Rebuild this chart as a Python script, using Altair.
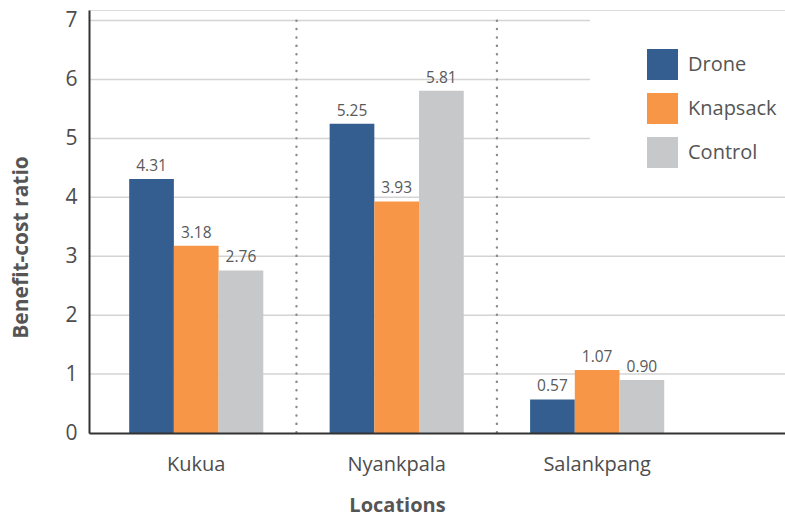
import altair as alt
import pandas as pd

# Benefit-cost ratios by location and application method
locations = ["Kukua", "Nyankpala", "Salankpang"]
treatments = ["Drone", "Knapsack", "Control"]
drone = [4.31, 5.25, 0.57]
knapsack = [3.18, 3.93, 1.07]
control = [2.76, 5.81, 0.90]
colors = ["#345e8f", "#f79646", "#c7c8ca"]

y_ticks = [0, 1, 2, 3, 4, 5, 6, 7]
grid_full = [1, 2, 3, 4]
grid_short = [5, 6, 7]
separators = ["Nyankpala", "Salankpang"]

FONT = "Open Sans"
TEXT = "#555555"

rows = []
for t, vals in zip(treatments, [drone, knapsack, control]):
    for loc, v in zip(locations, vals):
        rows.append({"Location": loc, "Treatment": t, "Ratio": v, "Label": f"{v:.2f}"})
df = pd.DataFrame(rows)

x_scale = alt.Scale(domain=locations, paddingInner=0, paddingOuter=0.236, align=0.074)
off_scale = alt.Scale(domain=treatments, paddingInner=0, paddingOuter=0.742)
y_scale = alt.Scale(domain=[0, 7.18], nice=False, zero=True)

x_axis = alt.Axis(
    title="Locations",
    labelAngle=0,
    ticks=False,
    grid=False,
    domainColor="#333333",
    domainWidth=2,
    labelFontSize=20,
    labelColor="#4d4d4d",
    labelPadding=21,
    labelFont=FONT,
    titleFont=FONT,
    titleFontSize=20,
    titleFontWeight="bold",
    titleColor=TEXT,
    titleX=308,
    titleY=62,
    titleBaseline="top",
    zindex=1,
)

y_axis = alt.Axis(
    title="Benefit-cost ratio",
    values=y_ticks,
    format="d",
    ticks=False,
    grid=False,
    domainColor="#333333",
    domainWidth=2,
    labelFontSize=21,
    labelColor="#4d4d4d",
    labelPadding=12,
    labelFont=FONT,
    titleFont=FONT,
    titleFontSize=21,
    titleFontWeight="bold",
    titleColor=TEXT,
    titleX=-68,
    titleY=237,
    titleAlign="center",
    titleBaseline="middle",
    titleAngle=270,
    zindex=1,
)

# horizontal grid lines (upper ones stop short of the legend)
grid_a = alt.Chart(pd.DataFrame({"v": grid_full})).mark_rule(
    color="#d4d4d4", strokeWidth=1.5
).encode(y=alt.Y("v:Q", scale=y_scale, axis=y_axis))

grid_b = alt.Chart(pd.DataFrame({"v": grid_short})).mark_rule(
    color="#d4d4d4", strokeWidth=1.5
).encode(
    y=alt.Y("v:Q", scale=y_scale, axis=y_axis),
    x=alt.value(0),
    x2=alt.value(501),
)

# dotted separators between location groups
sep = alt.Chart(pd.DataFrame({"Location": separators, "top": [7, 7], "bottom": [0, 0]})).mark_rule(
    color="#8a8a8a", strokeWidth=2.4, strokeDash=[0.1, 8.3], strokeCap="round"
).encode(
    x=alt.X("Location:N", scale=x_scale, sort=locations, bandPosition=0, axis=x_axis),
    y=alt.Y("top:Q", scale=y_scale, axis=y_axis),
    y2="bottom:Q",
)

base = alt.Chart(df).encode(
    x=alt.X("Location:N", scale=x_scale, sort=locations, axis=x_axis),
    xOffset=alt.XOffset("Treatment:N", scale=off_scale, sort=treatments),
    y=alt.Y("Ratio:Q", scale=y_scale, axis=y_axis),
)

bars = base.mark_bar().encode(
    color=alt.Color(
        "Treatment:N",
        scale=alt.Scale(domain=treatments, range=colors),
        legend=alt.Legend(
            title=None,
            orient="none",
            legendX=558,
            legendY=39,
            symbolType="square",
            symbolSize=961,
            symbolStrokeWidth=0,
            symbolOpacity=1,
            labelFontSize=20,
            labelColor=TEXT,
            labelFont=FONT,
            labelOffset=10,
            rowPadding=13,
            padding=0,
        ),
    )
)

labels = base.mark_text(
    baseline="bottom", dy=-5, fontSize=15.5, color="#595959", font=FONT
).encode(text="Label:N")

chart = alt.layer(grid_a, grid_b, sep, bars, labels).properties(
    width=696,
    height=423,
    autosize=alt.AutoSizeParams(type="none"),
    padding={"left": 89, "top": 10, "right": 0, "bottom": 84},
).configure_view(stroke=None).configure(font=FONT)

chart.save("out.html", embed_options={"renderer": "svg", "actions": False})
